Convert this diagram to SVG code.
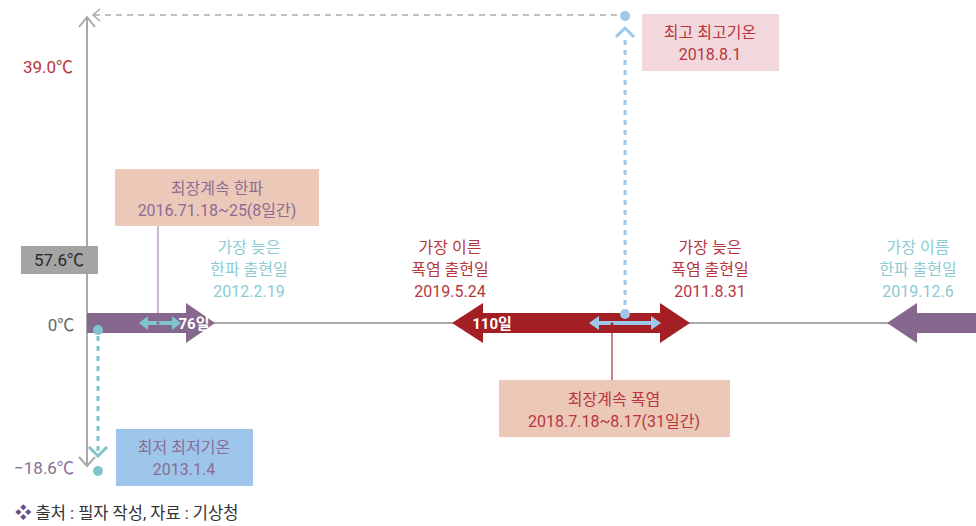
<svg xmlns="http://www.w3.org/2000/svg" width="976" height="526" viewBox="0 0 976 526">
<style>
text{font-family:Roboto,"Noto Sans CJK KR",sans-serif;font-size:16px;text-anchor:middle}
.red{fill:#b8363e}
.pur{fill:#8a6d94}
.teal{fill:#8ccbd4}
.wt{fill:#fff;font-weight:bold;font-size:15px}
.axis{stroke:#a9a9a9;stroke-width:2;fill:none}
</style>
<rect width="976" height="526" fill="#fff"/>
<g id="connectors">
<line class="axis" x1="87" y1="17" x2="87" y2="466"/>
<polyline class="axis" points="79,27 87,17 95,27"/>
<polyline class="axis" points="79,457 87,466 95,457"/>
<line class="axis" x1="87" y1="323" x2="976" y2="323"/>
<line x1="94" y1="15" x2="620" y2="15" stroke="#aaa" stroke-width="1.5" stroke-dasharray="6,5"/>
<polyline points="100,9 93,15 100,21" stroke="#aaa" stroke-width="1.5" fill="none"/>
<line x1="158" y1="226" x2="158" y2="323" stroke="#b99cc0" stroke-width="1.5"/>
<line x1="612" y1="323" x2="612" y2="380" stroke="#c0575e" stroke-width="1.5"/>
<line x1="98" y1="336" x2="98" y2="454" stroke="#7fc3cc" stroke-width="3" stroke-dasharray="5,5"/>
<polyline points="89,447 98,456 107,447" stroke="#7fc3cc" stroke-width="3" fill="none"/>
<line x1="625" y1="40" x2="625" y2="310" stroke="#9ec8ea" stroke-width="3" stroke-dasharray="5,5"/>
<polyline points="616,37 625,28 634,37" stroke="#9ec8ea" stroke-width="3" fill="none"/>
</g>
<g id="arrow-cold1">
<polygon points="87,313 186,313 186,303 215,323 186,343 186,333 87,333" fill="#86688f"/>
<text class="wt" x="194" y="329">76일</text>
<line x1="145" y1="323" x2="175" y2="323" stroke="#7fc3cc" stroke-width="4"/>
<polygon points="139,323 148,316 148,330" fill="#7fc3cc"/>
<polygon points="181,323 172,316 172,330" fill="#7fc3cc"/>
<circle cx="158" cy="323" r="1.5" fill="#86688f"/>
</g>
<g id="arrow-heat">
<polygon points="452,323 483,303 483,313 660,313 660,303 690,323 660,343 660,333 483,333 483,343" fill="#a31f24"/>
<text class="wt" x="492" y="329">110일</text>
<line x1="596" y1="323" x2="654" y2="323" stroke="#9ec8ea" stroke-width="4"/>
<polygon points="589,323 599,316 599,330" fill="#9ec8ea"/>
<polygon points="661,323 651,316 651,330" fill="#9ec8ea"/>
<circle cx="612" cy="324" r="1.5" fill="#a31f24"/>
</g>
<g id="arrow-cold2">
<polygon points="887,323 917,303 917,313 976,313 976,333 917,333 917,343" fill="#86688f"/>
</g>
<g id="dots">
<circle cx="98" cy="330" r="5" fill="#7fc3cc"/>
<circle cx="98" cy="471" r="5" fill="#7fc3cc"/>
<circle cx="625" cy="314" r="5" fill="#9ec8ea"/>
<circle cx="625" cy="16" r="5" fill="#9ec8ea"/>
</g>
<g id="labels-axis">
<text class="red" x="48" y="73" style="font-size:17px">39.0℃</text>
<text x="61" y="331" fill="#666" style="font-size:17px">0℃</text>
<text class="pur" x="44" y="474" style="font-size:17px">−18.6℃</text>
</g>
<g id="box-max">
<rect x="21" y="246" width="77" height="28" fill="#a4a4a4"/>
<text x="59" y="266" fill="#2a2a2a" style="font-size:17px">57.6℃</text>
</g>
<g id="box-coldwave">
<rect x="115" y="169" width="204" height="57" fill="#ecc8b9"/>
<text class="pur" x="217" y="194">최장계속 한파</text>
<text class="pur" x="217" y="216">2016.71.18~25(8일간)</text>
</g>
<g id="label-latest-cold">
<text class="teal" x="249" y="253">가장 늦은</text>
<text class="teal" x="249" y="275">한파 출현일</text>
<text class="teal" x="249" y="297">2012.2.19</text>
</g>
<g id="label-earliest-heat">
<text class="red" x="450" y="253">가장 이른</text>
<text class="red" x="450" y="275">폭염 출현일</text>
<text class="red" x="450" y="297">2019.5.24</text>
</g>
<g id="label-latest-heat">
<text class="red" x="710" y="253">가장 늦은</text>
<text class="red" x="710" y="275">폭염 출현일</text>
<text class="red" x="710" y="297">2011.8.31</text>
</g>
<g id="label-earliest-cold">
<text class="teal" x="918" y="253">가장 이름</text>
<text class="teal" x="918" y="275">한파 출현일</text>
<text class="teal" x="918" y="297">2019.12.6</text>
</g>
<g id="box-maxtemp">
<rect x="642" y="14" width="137" height="57" fill="#f2d8dc"/>
<text class="red" x="710" y="38">최고 최고기온</text>
<text class="red" x="710" y="60">2018.8.1</text>
</g>
<g id="box-heatwave">
<rect x="499" y="380" width="231" height="57" fill="#ecc8b9"/>
<text class="red" x="614" y="405">최장계속 폭염</text>
<text class="red" x="614" y="427">2018.7.18~8.17(31일간)</text>
</g>
<g id="box-mintemp">
<rect x="116" y="429" width="137" height="57" fill="#9dc6ea"/>
<text class="pur" x="184" y="453">최저 최저기온</text>
<text class="pur" x="184" y="475">2013.1.4</text>
</g>
<g id="footer">
<text x="15" y="519" style="text-anchor:start;font-size:16.5px" fill="#333"><tspan fill="#6b4a86">❖</tspan> 출처 : 필자 작성, 자료 : 기상청</text>
</g>
</svg>
